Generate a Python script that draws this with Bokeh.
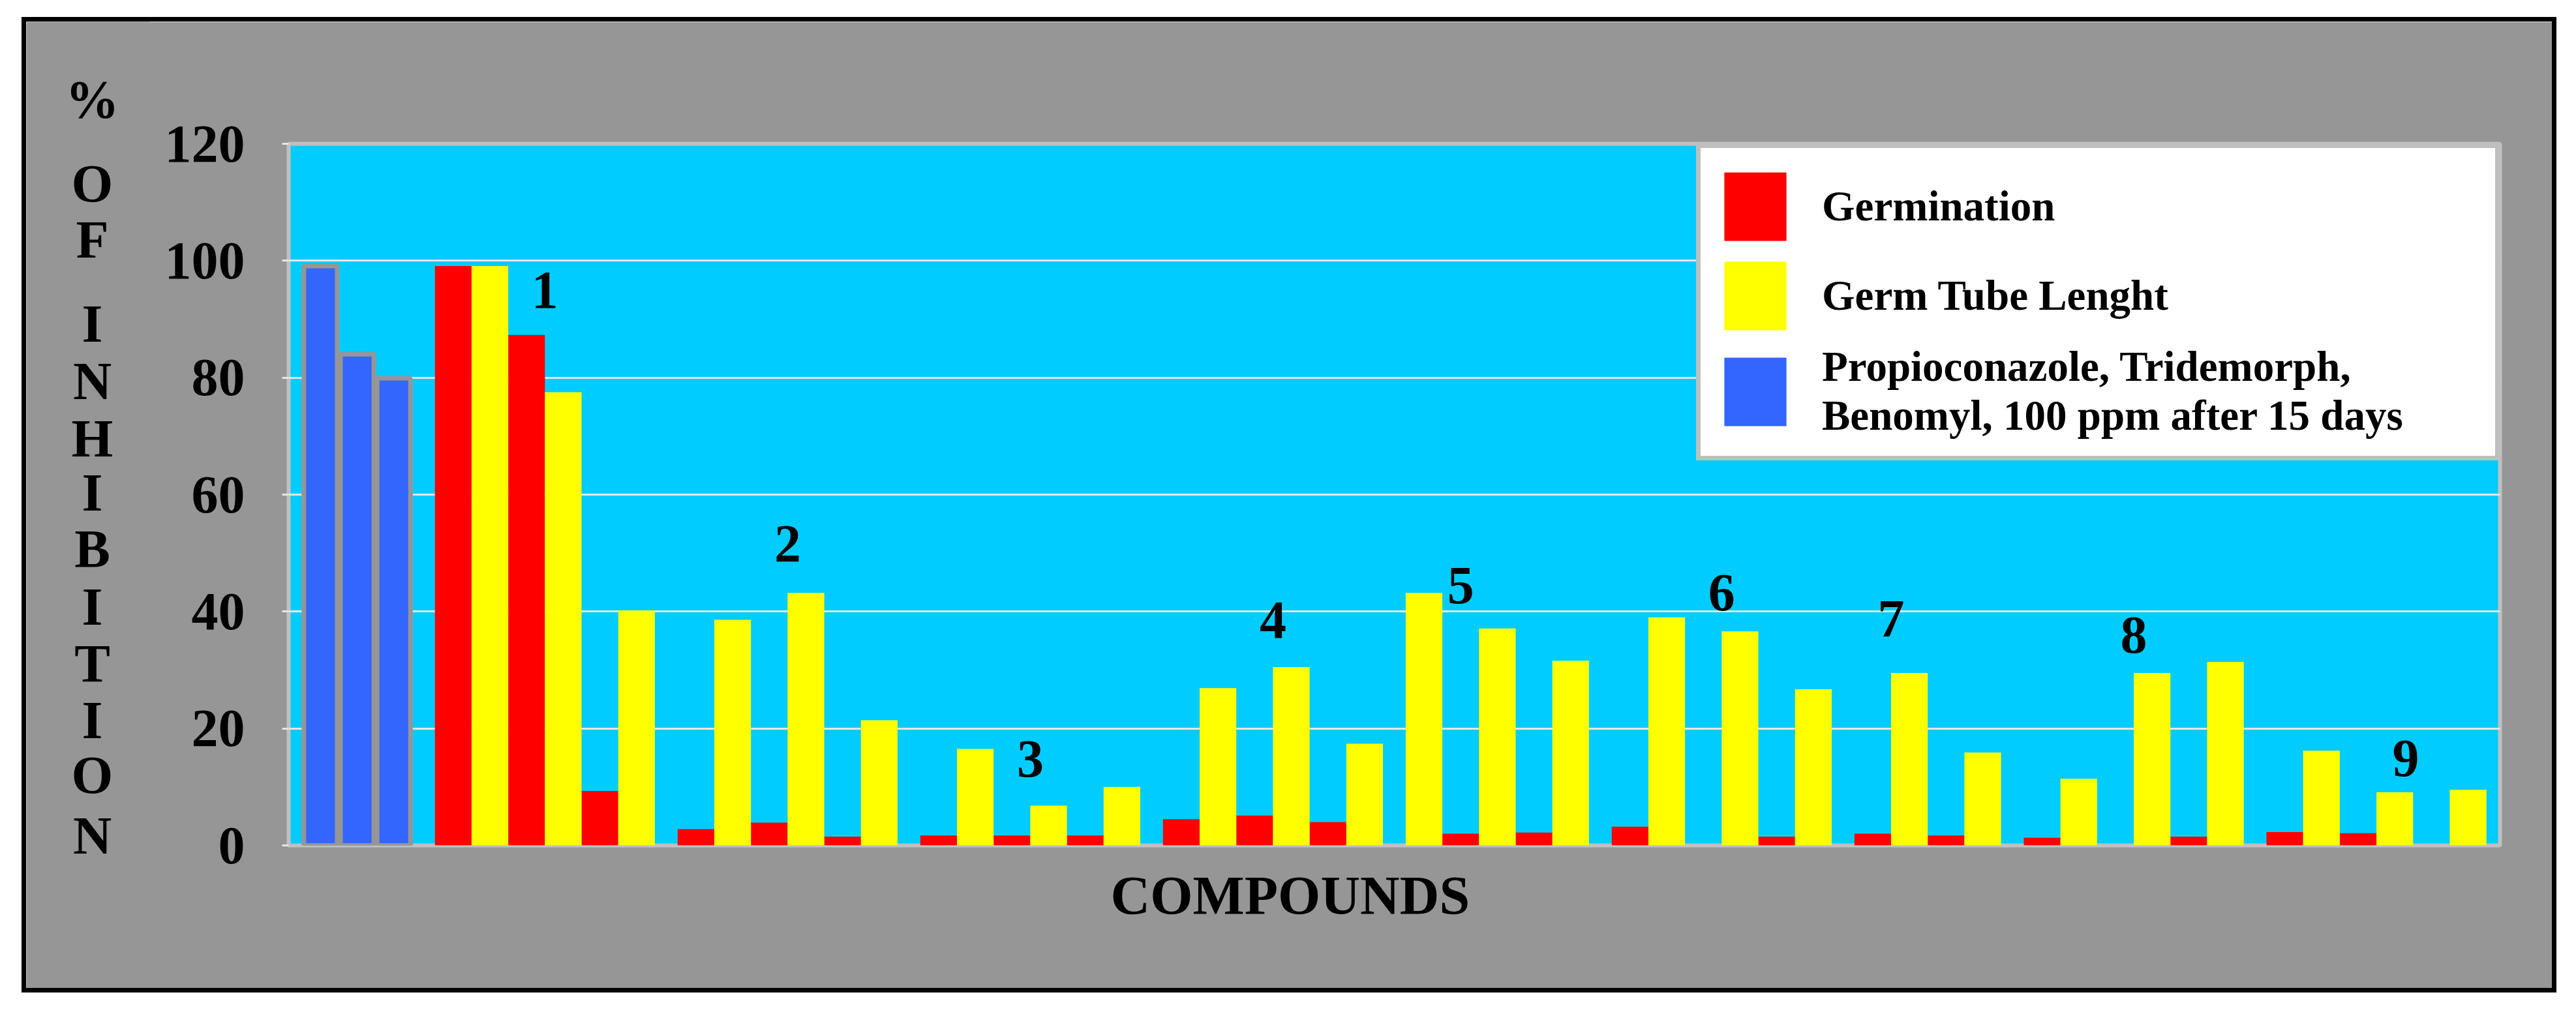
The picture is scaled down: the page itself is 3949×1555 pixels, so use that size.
from bokeh.plotting import figure
from bokeh.models import (ColumnDataSource, FactorRange, Range1d, Legend,
                          LegendItem, FixedTicker, Title)
from bokeh.core.properties import value
from bokeh.embed import file_html
from bokeh.resources import INLINE

# ---------------- data ----------------
control_names = ["Propioconazole", "Tridemorph", "Benomyl"]
control_values = [99.1, 84.0, 79.9]

compounds = ["1", "2", "3", "4", "5", "6", "7", "8", "9"]
# % inhibition of germination (red) and germ tube length (yellow), per dose
germination = [
    [99.1, 87.3, 9.3],
    [2.8, 3.9, 1.5],
    [1.7, 1.7, 1.7],
    [4.5, 5.1, 4.0],
    [None, 2.0, 2.2],
    [3.2, 0.0, 1.5],
    [2.0, 1.7],
    [1.3, 0.0, 1.5],
    [2.3, 2.1, 0.0],
]
tube_length = [
    [99.1, 77.5, 40.2],
    [38.6, 43.2, 21.4],
    [16.5, 6.8, 10.0],
    [26.9, 30.5, 17.4],
    [43.2, 37.1, 31.6],
    [39.0, 36.6, 26.7],
    [29.5, 15.9],
    [11.4, 29.5, 31.4],
    [16.2, 9.1, 9.5],
]
label_dose = ["d2", "d2", "d2", "d2", "d2", "d2", "d1", "d2", "d2"]
label_nudge = [0.0, 0.0, 0.0, 0.0, -0.5, 0.0, 0.0, 0.0, 0.8]
label_height = [95.0, 51.6, 14.8, 38.5, 44.4, 43.2, 38.7, 36.0, 14.9]
y_ticks = [0, 20, 40, 60, 80, 100, 120]
y_title = ["%", "O", "F", "I", "N", "H", "I", "B", "I", "T", "I", "O", "N"]
x_title = "COMPOUNDS"
legend_labels = ["Germination", "Germ Tube Lenght",
                 "Propioconazole, Tridemorph,\nBenomyl, 100 ppm after 15 days"]

# ---------------- build factors ----------------
ctrl_x = [("0", "ctrl", n) for n in control_names]
factors = list(ctrl_x)
g_x, g_y, t_x, t_y = [], [], [], []
for c, gs, ts in zip(compounds, germination, tube_length):
    for d, (gv, tv) in enumerate(zip(gs, ts), start=1):
        dose = "d%d" % d
        if gv is not None:
            f = (c, dose, "G")
            factors.append(f)
            g_x.append(f)
            g_y.append(gv)
        f = (c, dose, "T")
        factors.append(f)
        t_x.append(f)
        t_y.append(tv)

x_range = FactorRange(*factors, factor_padding=0, subgroup_padding=0,
                      group_padding=0.62, range_padding=0.37,
                      range_padding_units="absolute")

FONT = "Liberation Serif"
GRAY = "#969696"
W, H = 3872, 1482

# ---------------- main chart ----------------
p = figure(x_range=x_range, y_range=Range1d(0, 120), width=W, height=H,
           output_backend="svg", toolbar_location=None,
           min_border_left=402, min_border_right=80,
           min_border_top=187, min_border_bottom=219,
           background_fill_color="#00CCFF", border_fill_color=GRAY)
p.styles = {"position": "absolute", "left": "40px", "top": "33px",
            "outline": "7px solid black"}

p.outline_line_color = "#C0C0C0"
p.outline_line_width = 6

p.xaxis.visible = False
p.xgrid.visible = False

ax = p.yaxis[0]
ax.ticker = FixedTicker(ticks=y_ticks)
ax.axis_line_color = None
ax.major_tick_out = 10
ax.major_tick_in = 0
ax.major_tick_line_color = "#E6E6E6"
ax.major_tick_line_width = 3
ax.minor_tick_line_color = None
ax.major_label_standoff = 57
ax.major_label_text_font = FONT
ax.major_label_text_font_style = "bold"
ax.major_label_text_font_size = "82px"
ax.major_label_text_color = "black"

p.ygrid.grid_line_color = "#E6E6E6"
p.ygrid.grid_line_width = 3

# ---------------- bars ----------------
src_c = ColumnDataSource(dict(x=ctrl_x, top=control_values))
src_g = ColumnDataSource(dict(x=g_x, top=g_y))
src_t = ColumnDataSource(dict(x=t_x, top=t_y))

p.vbar(x="x", top="top", width=0.91, source=src_c, fill_color="#3366FF",
       line_color=GRAY, line_width=7)
r_g = p.vbar(x="x", top="top", width=1.0, source=src_g,
             fill_color="#FF0000", line_color=None)
r_t = p.vbar(x="x", top="top", width=1.0, source=src_t,
             fill_color="#FFFF00", line_color=None)
# key swatch for the reference fungicides (drawn without outline, zero height)
r_b = p.vbar(x="x", top="top", width=1.0,
             source=ColumnDataSource(dict(x=ctrl_x[:1], top=[0])),
             fill_color="#3366FF", line_color=None)

# ---------------- compound numbers ----------------
src_l = ColumnDataSource(dict(
    x=[(c, d, n) for c, d, n in zip(compounds, label_dose, label_nudge)],
    y=label_height, text=compounds))
p.text(x="x", y="y", text="text", source=src_l, text_font=value(FONT),
       text_font_style="bold", text_font_size="82px", text_align="center",
       text_baseline="alphabetic", text_color="black")

# ---------------- x title ----------------
p.add_layout(Title(text=x_title, align="left", offset=1260, standoff=57,
                   text_font=FONT, text_font_style="bold", text_font_size="84px",
                   text_color="black"), "below")

# ---------------- legend ----------------
legend = Legend(items=[LegendItem(label=legend_labels[0], renderers=[r_g]),
                       LegendItem(label=legend_labels[1], renderers=[r_t]),
                       LegendItem(label=legend_labels[2], renderers=[r_b])],
                location="top_right", margin=0, padding=24, spacing=6,
                glyph_width=119, glyph_height=131, label_standoff=43,
                label_width=1008,
                label_text_font=FONT, label_text_font_style="bold",
                label_text_font_size="65px", label_text_color="black",
                label_text_line_height=1.17,
                border_line_color="#808080", border_line_width=7,
                background_fill_color="white", background_fill_alpha=1.0)
p.add_layout(legend)

# ---------------- stacked y title: a small overlay strip on the left border ----------------
LEFT_W = 190
left = figure(width=LEFT_W, height=H, x_range=Range1d(0, LEFT_W), y_range=Range1d(0, H),
              output_backend="svg", toolbar_location=None, min_border=0,
              x_axis_type=None, y_axis_type=None,
              background_fill_color=GRAY, border_fill_color=GRAY)
left.outline_line_color = None
left.styles = {"position": "absolute", "left": "40px", "top": "33px"}
title_y = [1363, 1234, 1148, 1019, 931, 843, 760, 674, 585, 498, 411, 327, 234]
left.text(x=[101] * len(y_title), y=title_y, text=y_title,
          text_font=value(FONT), text_font_style="bold", text_font_size="82px",
          text_align="center", text_baseline="alphabetic", text_color="black")

open("out.html", "w").write(file_html([p, left], INLINE))
